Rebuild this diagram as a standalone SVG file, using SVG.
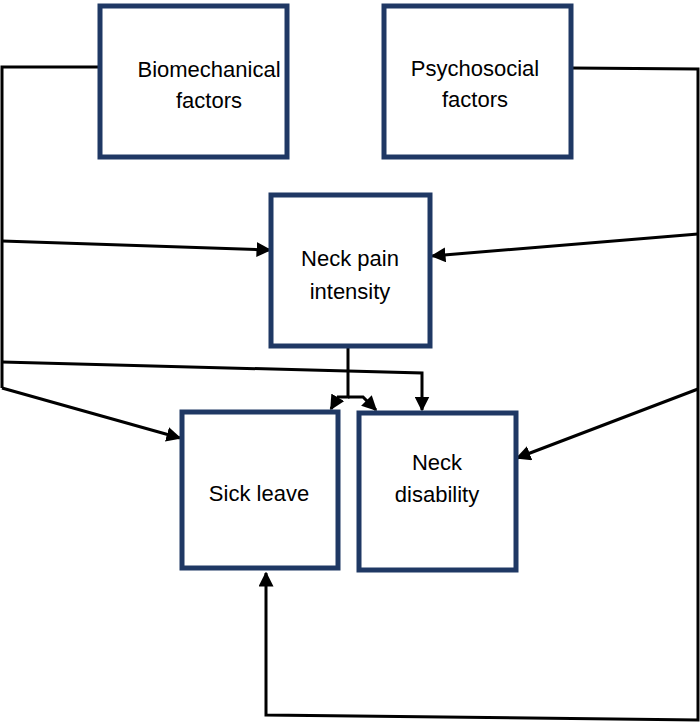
<svg xmlns="http://www.w3.org/2000/svg" width="700" height="723" viewBox="0 0 700 723">
<defs>
<style>
.box{fill:#fff;stroke:#1f3864;stroke-width:5}
.t{font-family:"Liberation Sans",Arial,sans-serif;font-size:22px;fill:#000;text-anchor:middle}
.c{fill:none;stroke:#000;stroke-width:3}
</style>
<marker id="ah" viewBox="0 0 10 10" refX="9" refY="5" markerWidth="5" markerHeight="5" markerUnits="strokeWidth" orient="auto">
<path d="M0,0 L10,5 L0,10 z" fill="#000"/>
</marker>
</defs>
<rect width="700" height="723" fill="#fff"/>
<g id="connectors">
<path class="c" d="M100,67 L2,67 L2,388"/>
<path class="c" d="M2,241 L270,250" marker-end="url(#ah)"/>
<path class="c" d="M2,362 L422,373 L422,410" marker-end="url(#ah)"/>
<path class="c" d="M2,388 L180,438" marker-end="url(#ah)"/>
<path class="c" d="M571,68 L698,69 L698,720 L266,715 L266,573" marker-end="url(#ah)"/>
<path class="c" d="M698,234 L432,256" marker-end="url(#ah)"/>
<path class="c" d="M698,389 L517,458" marker-end="url(#ah)"/>
<path class="c" d="M348,347 L348,397 L338,397 L331,409" marker-end="url(#ah)"/>
<path class="c" d="M348,397 L363,397 L376,410" marker-end="url(#ah)"/>
</g>
<g id="biomechanical">
<rect class="box" x="100" y="6" width="187" height="151"/>
<text class="t" x="209" y="77">Biomechanical</text>
<text class="t" x="209" y="108">factors</text>
</g>
<g id="psychosocial">
<rect class="box" x="384" y="6" width="187" height="151"/>
<text class="t" x="475" y="76">Psychosocial</text>
<text class="t" x="475" y="107">factors</text>
</g>
<g id="neckpain">
<rect class="box" x="271" y="195" width="159" height="151"/>
<text class="t" x="350" y="266">Neck pain</text>
<text class="t" x="350" y="299">intensity</text>
</g>
<g id="sickleave">
<rect class="box" x="182" y="412" width="156" height="156"/>
<text class="t" x="259" y="501">Sick leave</text>
</g>
<g id="neckdisability">
<rect class="box" x="359" y="413" width="157" height="157"/>
<text class="t" x="437" y="470">Neck</text>
<text class="t" x="437" y="502">disability</text>
</g>
</svg>
